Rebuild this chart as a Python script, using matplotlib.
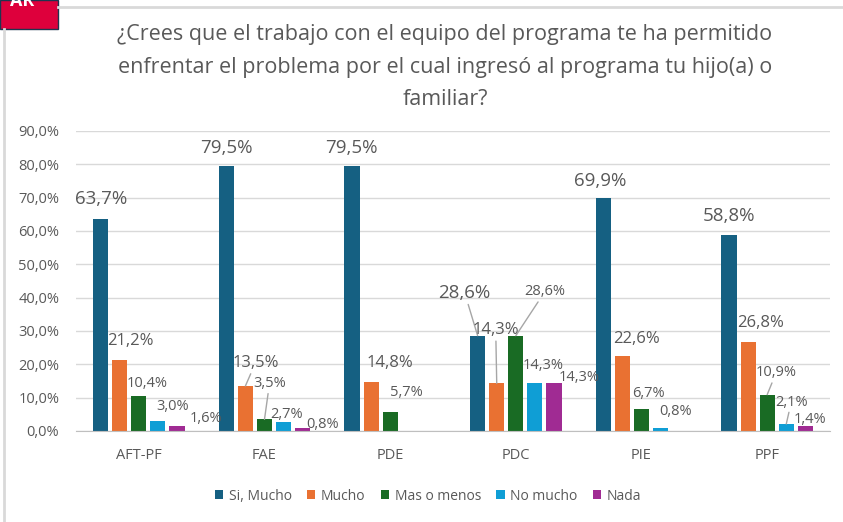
import numpy as np
import matplotlib
matplotlib.use("Agg")
import matplotlib.pyplot as plt
from matplotlib.patches import Rectangle
from matplotlib.lines import Line2D

# ---------------- data ----------------
categories = ['AFT-PF', 'FAE', 'PDE', 'PDC', 'PIE', 'PPF']
series_names = ['Si, Mucho', 'Mucho', 'Mas o menos', 'No mucho', 'Nada']
si_mucho = [63.7, 79.5, 79.5, 28.6, 69.9, 58.8]
mucho = [21.2, 13.5, 14.8, 14.3, 22.6, 26.8]
mas_o_menos = [10.4, 3.5, 5.7, 28.6, 6.7, 10.9]
no_mucho = [3.0, 2.7, np.nan, 14.3, 0.8, 2.1]
nada = [1.6, 0.8, np.nan, 14.3, np.nan, 1.4]
y_ticks = [0, 10, 20, 30, 40, 50, 60, 70, 80, 90]
title = ('¿Crees que el trabajo con el equipo del programa te ha permitido\n'
         'enfrentar el problema por el cual ingresó al programa tu hijo(a) o\n'
         'familiar?')

# ---------------- style / layout ----------------
colors = ['#156082', '#E97132', '#196B24', '#0F9ED5', '#A02B93']
label_sizes = [13.5, 12, 10.5, 10.5, 10.5]
TXT = '#595959'
FONT = ['Open Sans', 'DejaVu Sans']
# label offsets in pixels (dx, dy) from bar top, plus leader flag
offsets = {
    (0, 0): (0, 20, False), (1, 0): (11, 19, False), (2, 0): (8, 13, False),
    (3, 0): (15, 15, False), (4, 0): (29, 7, False),
    (0, 1): (0, 18, False), (1, 1): (10, 23, True), (2, 1): (5, 36, True),
    (3, 1): (3, 8, False), (4, 1): (20, 4, False),
    (0, 2): (-1, 18, False), (1, 2): (19, 19, False), (2, 2): (16, 19, False),
    (0, 3): (-13, 43, True), (1, 3): (-1, 53, True), (2, 3): (29, 44, True),
    (3, 3): (8, 18, False), (4, 3): (25, 6, False),
    (0, 4): (-3, 17, False), (1, 4): (14, 17, False), (2, 4): (7, 15, False),
    (3, 4): (15, 17, False),
    (0, 5): (0, 19, False), (1, 5): (12, 19, False), (2, 5): (9, 22, True),
    (3, 5): (5, 22, True), (4, 5): (5, 7, False),
}

plt.rcParams['font.family'] = FONT

W, H = 843, 522
fig = plt.figure(figsize=(W / 100, H / 100), dpi=100)
fig.patch.set_facecolor('white')

ax = fig.add_axes([76 / W, 1 - 431 / H, 754 / W, 300 / H])

series = [si_mucho, mucho, mas_o_menos, no_mucho, nada]
x = np.arange(len(categories))
step = 0.152
bw = 0.12
for i, (vals, c) in enumerate(zip(series, colors)):
    xs = x + (i - 2) * step
    ax.bar(xs, vals, width=bw, color=c, label=series_names[i], zorder=3)
    for j, v in enumerate(vals):
        if np.isnan(v):
            continue
        dx, dy, leader = offsets[(i, j)]
        lbl = f"{v:.1f}%".replace('.', ',')
        kw = {}
        if leader:
            kw['arrowprops'] = dict(arrowstyle='-', color='#A6A6A6', lw=1,
                                    shrinkA=0, shrinkB=0)
        ax.annotate(lbl, xy=(xs[j], v), xytext=(dx, dy),
                    textcoords='offset pixels', ha='center', va='center',
                    fontsize=label_sizes[i], color=TXT, zorder=5, **kw)

ax.set_xlim(-0.5, len(categories) - 0.5)
ax.set_ylim(0, 90)
ax.set_yticks(y_ticks)
ax.set_yticklabels([f"{t:.1f}%".replace('.', ',') for t in y_ticks])
ax.set_xticks(x)
ax.set_xticklabels(categories)
ax.tick_params(axis='both', length=0, labelsize=10.5, labelcolor=TXT)
ax.tick_params(axis='y', pad=12)
ax.tick_params(axis='x', pad=12)
ax.grid(axis='y', color='#D9D9D9', lw=1, zorder=0)
ax.set_axisbelow(True)
for s in ['top', 'right', 'left']:
    ax.spines[s].set_visible(False)
ax.spines['bottom'].set_color('#BFBFBF')
ax.spines['bottom'].set_zorder(4)

fig.text(445 / W, 1 - 67 / H, title, ha='center', va='center',
         fontsize=15.5, color=TXT, linespacing=1.7)

leg = fig.legend(loc='center', bbox_to_anchor=(428 / W, 1 - 496 / H),
                 ncol=5, frameon=False, fontsize=10, handlelength=0.6,
                 handleheight=0.6, handletextpad=0.4, columnspacing=1.1,
                 labelcolor=TXT)

# frame decorations
fig.add_artist(Line2D([58 / W, 1], [1 - 7 / H, 1 - 7 / H], color='#D9D9D9', lw=2))
fig.add_artist(Line2D([4 / W, 4 / W], [0, 1 - 29 / H], color='#D9D9D9', lw=2))
fig.add_artist(Rectangle((0, 1 - 29 / H), 58 / W, 29 / H, facecolor='#DE003C',
                         edgecolor='#1F3550', lw=1))
fig.text(22 / W, 1 - 1 / H, 'AR', color='white', fontsize=13, ha='center',
         va='center', fontweight='bold')

fig.savefig('out.png', dpi=100)
